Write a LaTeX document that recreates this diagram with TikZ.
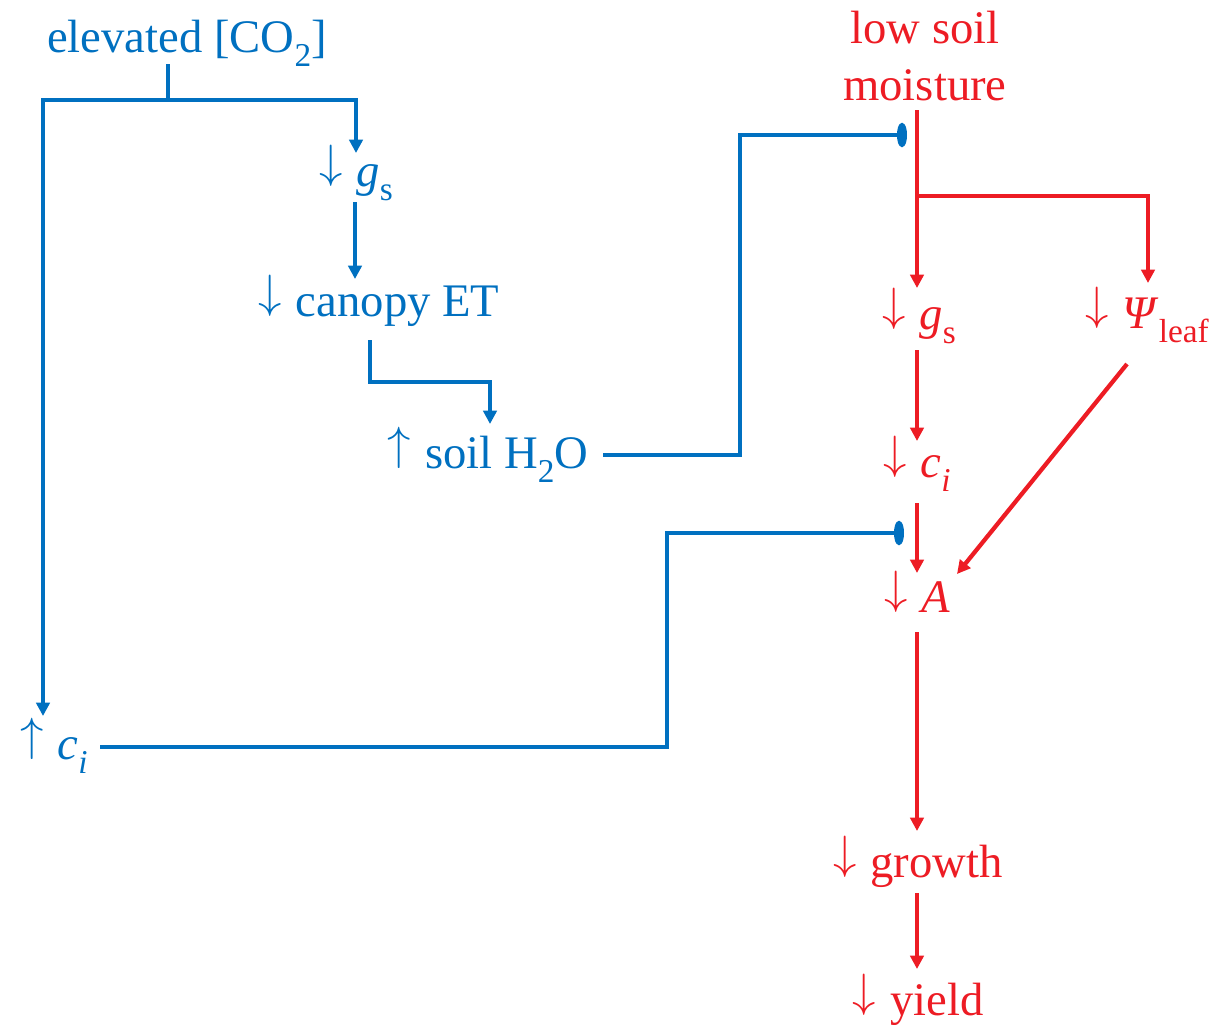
\documentclass[tikz,border=0pt]{standalone}
\usepackage{fontspec}
\setmainfont{Liberation Serif}
\usetikzlibrary{arrows.meta}
\definecolor{cblue}{RGB}{0,112,192}
\definecolor{cred}{RGB}{237,28,36}
\newcommand{\mysub}[1]{\raisebox{-0.32em}{\fontsize{25}{25}\selectfont #1}}
\newcommand{\dn}{\raisebox{0.19em}{\scalebox{3.5}{\fontsize{10}{12}\selectfont$\downarrow$}}\kern0.05em}
\newcommand{\upa}{\raisebox{0.19em}{\scalebox{3.5}{\fontsize{10}{12}\selectfont$\uparrow$}}\kern0.05em}
\tikzset{
  lbl/.style={anchor=base, inner sep=0pt, font=\fontsize{35}{43}\selectfont},
  blbl/.style={lbl, text=cblue},
  rlbl/.style={lbl, text=cred},
  bline/.style={draw=cblue, line width=3pt},
  rline/.style={draw=cred, line width=3.2pt},
  barr/.style={bline, -{Triangle[length=10pt,width=10pt]}},
  rarr/.style={rline, -{Triangle[length=10pt,width=10pt]}},
  binh/.style={draw=cblue, line width=2.6pt, -{Ellipse[length=7.5pt,width=18pt]}}
}
\begin{document}
\begin{tikzpicture}[x=0.75pt,y=-0.75pt]
\useasboundingbox (0,0) rectangle (1218,1025);
% nodes
\node[blbl] (co2) at (187,52) {elevated [CO\mysub{2}]};
\node[blbl] (gsB) at (356,186) {\dn{} \textit{g}\mysub{s}};
\node[blbl] (etB) at (379,316) {\dn{} canopy ET};
\node[blbl] (soil) at (488,468) {\upa{} soil H\mysub{2}O};
\node[blbl] (ciB) at (54,759) {\upa{} \textit{c}\mysub{\textit{i}}};
\node[rlbl] (low) at (925,43) {low soil};
\node[rlbl] (moist) at (925,100) {moisture};
\node[rlbl] (gsR) at (919,329) {\dn{} \textit{g}\mysub{s}};
\node[rlbl] (psi) at (1147,328) {\dn{} \textit{Ψ}\mysub{leaf}};
\node[rlbl] (ciR) at (917,477) {\dn{} \textit{c}\mysub{\textit{i}}};
\node[rlbl] (aR) at (917,612) {\dn{} \textit{A}};
\node[rlbl] (grow) at (918,877) {\dn{} growth};
\node[rlbl] (yield) at (918,1015) {\dn{} yield};
% coordinates for connector ends
\coordinate (co2-out) at (168,64);
\coordinate (jB) at (168,100);
\coordinate (gsB-in) at (356,153);
\coordinate (ciB-in) at (43,716);
\coordinate (gsB-out) at (355,202);
\coordinate (etB-in) at (355,279);
\coordinate (etB-out) at (370,340);
\coordinate (soil-in) at (490,424);
\coordinate (soil-out) at (603,455);
\coordinate (moist-inh) at (907,135);
\coordinate (ciB-out) at (100,747);
\coordinate (aR-inh) at (904,533);
\coordinate (moist-out) at (917,110);
\coordinate (jR) at (917,196);
\coordinate (gsR-in) at (917,288);
\coordinate (psi-in) at (1148,283);
\coordinate (gsR-out) at (917,350);
\coordinate (ciR-in) at (917,441);
\coordinate (ciR-out) at (917,503);
\coordinate (aR-in) at (917,573);
\coordinate (psi-out) at (1127,364);
\coordinate (aR-in2) at (957,574);
\coordinate (aR-out) at (917,632);
\coordinate (grow-in) at (917,831);
\coordinate (grow-out) at (917,893);
\coordinate (yield-in) at (917,969);
% blue connectors
\draw[bline] (co2-out) -- (jB);
\draw[barr] (jB) -| (ciB-in);
\draw[barr] (jB) -| (gsB-in);
\draw[barr] (gsB-out) -- (etB-in);
\draw[barr] (etB-out) |- ++(60,42) -| (soil-in);
\draw[binh] (soil-out) -- ++(137,0) |- (moist-inh);
\draw[binh] (ciB-out) -- ++(567,0) |- (aR-inh);
% red connectors
\draw[rline] (moist-out) -- (jR);
\draw[rarr] (jR) -- (gsR-in);
\draw[rarr] (jR) -| (psi-in);
\draw[rarr] (gsR-out) -- (ciR-in);
\draw[rarr] (ciR-out) -- (aR-in);
\draw[rarr] (psi-out) -- (aR-in2);
\draw[rarr] (aR-out) -- (grow-in);
\draw[rarr] (grow-out) -- (yield-in);
\end{tikzpicture}
\end{document}
